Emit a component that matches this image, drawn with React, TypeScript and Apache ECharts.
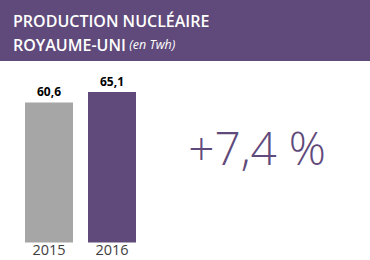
import React, { useEffect, useRef } from "react";
import * as echarts from "echarts";

const categories = ["2015", "2016"];
const values = [60.6, 65.1];
const valueLabels = ["60,6", "65,1"];
const barColors = ["#a6a6a6", "#5f4a7b"];
const titleLine1 = "PRODUCTION NUCLÉAIRE";
const titleLine2 = "ROYAUME-UNI";
const titleUnit = "(en Twh)";
const changeText = "+7,4 %";

export default function App() {
  const ref = useRef<HTMLDivElement>(null);
  useEffect(() => {
    if (!ref.current) return;
    const chart = echarts.init(ref.current, undefined, { renderer: "svg" });
    chart.setOption({
      animation: false,
      backgroundColor: "#ffffff",
      grid: { left: 17.5, width: 126, top: 80.8, bottom: 17.5, containLabel: false },
      xAxis: {
        type: "category",
        data: categories,
        axisLine: { show: false },
        axisTick: { show: false },
        axisLabel: {
          color: "#404040",
          fontSize: 14.5,
          lineHeight: 14,
          fontFamily: "Open Sans",
          margin: 0,
        },
      },
      yAxis: { type: "value", min: 0, max: 70, show: false },
      series: [
        {
          type: "bar",
          barWidth: 48,
          data: values.map((v, i) => ({ value: v, itemStyle: { color: barColors[i] } })),
          label: {
            show: true,
            position: "top",
            distance: 5,
            formatter: (p: any) => valueLabels[p.dataIndex],
            color: "#000000",
            fontWeight: "bold",
            fontSize: 12,
            fontFamily: "Open Sans",
          },
        },
      ],
      graphic: [
        { type: "rect", shape: { x: 0, y: 0, width: 370, height: 61 }, style: { fill: "#5f4a7b" } },
        {
          type: "text",
          x: 13,
          y: 21,
          style: {
            text: titleLine1,
            fill: "#ffffff",
            font: "600 16px 'Open Sans'",
            verticalAlign: "middle",
          },
        },
        {
          type: "text",
          x: 13,
          y: 44.5,
          style: {
            rich: {
              a: { fill: "#ffffff", font: "600 16px 'Open Sans'" },
              b: { fill: "#ffffff", font: "italic 12.5px 'Open Sans'" },
            },
            text: `{a|${titleLine2}} {b|${titleUnit}}`,
            verticalAlign: "middle",
          },
        },
        {
          type: "text",
          x: 257,
          y: 147,
          style: {
            text: changeText,
            fill: "#5f4a7b",
            font: "300 46px 'Open Sans'",
            align: "center",
            verticalAlign: "middle",
          },
        },
      ],
    });
    return () => chart.dispose();
  }, []);
  return <div ref={ref} style={{ width: 370, height: 260, position: "absolute", left: 0, top: 0 }} />;
}
